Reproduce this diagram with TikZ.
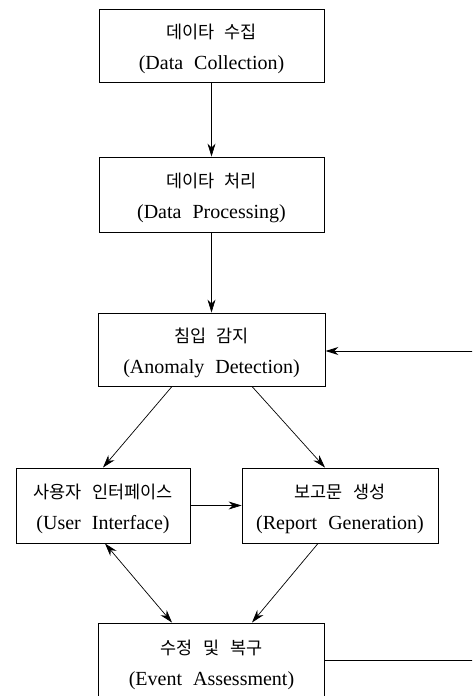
\documentclass[tikz,border=0pt]{standalone}
\usepackage{fontspec}
\setmainfont{Liberation Serif}
\newfontfamily\krfont{Noto Sans CJK KR}
\usetikzlibrary{arrows.meta}
\newcommand\ko[1]{\rule{0pt}{22pt}{\krfont\fontsize{17.5}{31}\selectfont #1}}
\newcommand\gap{\hspace{0.55em}}
\newcommand\kgap{\hspace{0.6em}}
\begin{document}
\begin{tikzpicture}[x=1pt,y=-1pt,
  box/.style={draw, line width=0.9pt, align=center, inner sep=0pt,
    font=\fontsize{20}{31}\selectfont},
  txt/.style={align=center, inner sep=0pt, font=\fontsize{20}{31}\selectfont},
  arr/.style={line width=0.7pt, -{Stealth[length=13pt,width=8pt]}},
  darr/.style={line width=0.7pt, {Stealth[length=13pt,width=8pt]}-{Stealth[length=13pt,width=8pt]}},
  lin/.style={line width=0.9pt}]
\useasboundingbox (0,0) rectangle (472,696);
\clip (0,0) rectangle (472,696);
\fill[white] (0,0) rectangle (472,696);

\node[box, minimum width=225pt, minimum height=73pt] (dc) at (211.5,45.5)
  {\ko{데이타\kgap 수집}\\(Data\gap Collection)};
\node[box, minimum width=225pt, minimum height=75pt] (dp) at (211.5,194.5)
  {\ko{데이타\kgap 처리}\\(Data\gap Processing)};
\node[box, minimum width=227pt, minimum height=73pt] (ad) at (211.5,349.5)
  {\ko{침입\kgap 감지}\\(Anomaly\gap Detection)};
\node[box, minimum width=174pt, minimum height=75pt] (ui) at (103,505.5)
  {\ko{사용자\kgap 인터페이스}\\(User\gap Interface)};
\node[box, minimum width=196pt, minimum height=75pt] (rg) at (340,505.5)
  {\ko{보고문\kgap 생성}\\(Report\gap Generation)};
\node[draw, line width=0.9pt, minimum width=226pt, minimum height=82pt, inner sep=0pt] (ev) at (211.5,664) {};
\node[txt] (evt) at (211.5,661)
  {\ko{수정\kgap 및\kgap 복구}\\(Event\gap Assessment)};

\draw[arr] (dc.south) -- (dp.north);
\draw[arr] (dp.south) -- (ad.north);
\draw[arr] ([xshift=-39.5pt]ad.south) -- (ui.north);
\draw[arr] ([xshift=40.5pt]ad.south) -- ([xshift=-15pt]rg.north);
\draw[arr] (ui.east) -- (ui.east -| rg.west);
\draw[darr] ([xshift=2pt]ui.south) -- ([xshift=-39.5pt]ev.north);
\draw[arr] ([xshift=-22pt]rg.south) -- ([xshift=40.5pt]ev.north);
\coordinate (fb) at (490,660);
\draw[lin] ([yshift=4pt]ev.east) -- ([yshift=4pt]ev.east -| fb) -- (fb |- ad.east);
\draw[arr, line width=0.9pt] ([yshift=-1.5pt]fb |- ad.east) -- ([yshift=-1.5pt]ad.east);
\end{tikzpicture}
\end{document}
